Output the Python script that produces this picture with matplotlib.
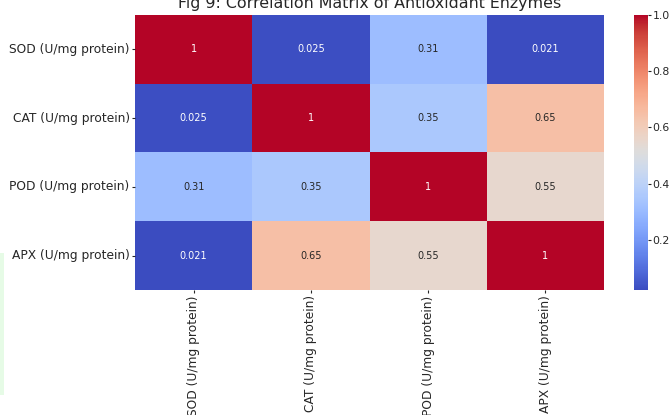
import numpy as np
import matplotlib
matplotlib.use("Agg")
import matplotlib.pyplot as plt
import seaborn as sns
from matplotlib.patches import Rectangle

labels = ["SOD (U/mg protein)", "CAT (U/mg protein)", "POD (U/mg protein)", "APX (U/mg protein)"]
row_sod = [1.0, 0.025, 0.31, 0.021]
row_cat = [0.025, 1.0, 0.35, 0.65]
row_pod = [0.31, 0.35, 1.0, 0.55]
row_apx = [0.021, 0.65, 0.55, 1.0]
title = "Fig 9: Correlation Matrix of Antioxidant Enzymes"

corr = np.array([row_sod, row_cat, row_pod, row_apx])

fig = plt.figure(figsize=(6.7, 4.15), dpi=100)
W, H = 670, 415
ax = fig.add_axes([135 / W, 1 - 290 / H, (604 - 135) / W, (290 - 15) / H])
cax = fig.add_axes([634 / W, 1 - 290 / H, (648 - 634) / W, (290 - 15) / H])

sns.heatmap(corr, annot=True, cmap="coolwarm", ax=ax, cbar_ax=cax,
            xticklabels=labels, yticklabels=labels,
            annot_kws={"fontsize": 7.0})
ax.set_title(title, fontsize=11.45, pad=4.8, color="#262626")
ax.tick_params(axis="both", labelsize=8.8, length=2.3, pad=1.5,
               labelcolor="#262626", color="#262626")
cax.tick_params(labelsize=7.8, length=2.0, pad=1.2,
                labelcolor="#262626", color="#262626")
plt.setp(ax.get_xticklabels(), rotation=90)
plt.setp(ax.get_yticklabels(), rotation=0)

fig.patches.append(Rectangle((0, 1 - 395 / H), 4 / W, (395 - 253) / H,
                             transform=fig.transFigure, facecolor="#e6fbe6",
                             edgecolor="none", zorder=0))

fig.savefig("out.png", dpi=100)
